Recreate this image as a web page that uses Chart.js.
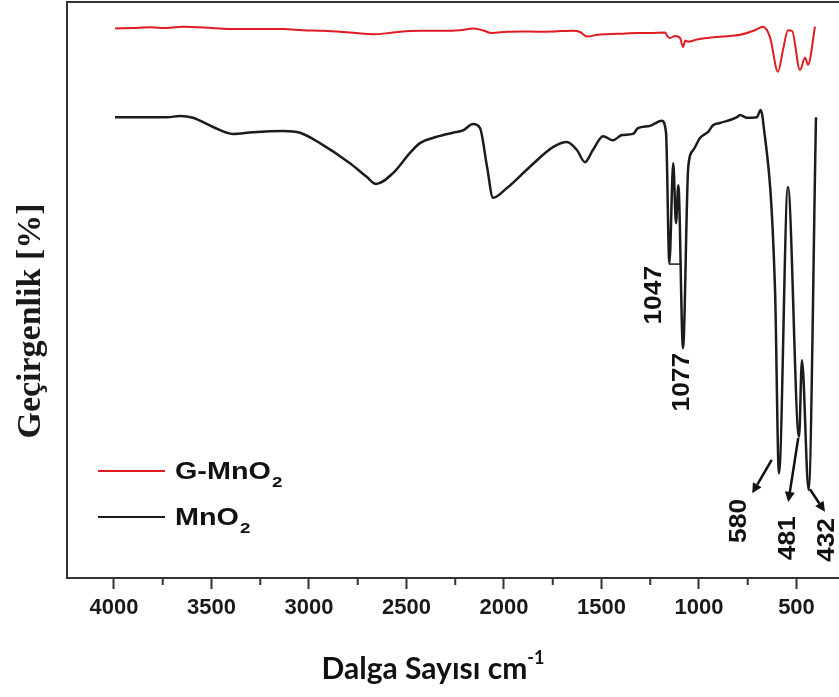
<!DOCTYPE html>
<html>
<head>
<meta charset="utf-8">
<script src="https://cdn.jsdelivr.net/npm/chart.js@4.4.0/dist/chart.umd.min.js"></script>
<style>
  html, body { margin: 0; padding: 0; background: #fff; }
  #wrap { width: 839px; height: 697px; }
</style>
</head>
<body>
<div id="wrap"><canvas id="ftir" width="839" height="697"></canvas></div>
<script>
// wavenumbers (cm-1) and transmittance (arbitrary %)
const gmnoX = [3995, 3900, 3815, 3730, 3646, 3500, 3390, 3260, 3133, 3030, 2928, 2790, 2662, 2533, 2431, 2328, 2226, 2159, 2110, 2062, 1985, 1900, 1831, 1740, 1646, 1610, 1574, 1520, 1472, 1400, 1318, 1250, 1174, 1160, 1149, 1123, 1097, 1082, 1070, 1056, 1010, 959, 880, 790, 713, 672, 636, 595, 569, 544, 523, 482, 456, 441, 405];
const gmnoY = [95.4, 95.5, 95.6, 95.5, 95.7, 95.5, 95.3, 95.3, 95.3, 95.1, 95.0, 94.7, 94.4, 94.85, 95.0, 95.0, 95.1, 95.4, 95.1, 94.6, 94.85, 94.9, 94.85, 94.9, 95.0, 94.8, 94.0, 94.3, 94.4, 94.5, 94.6, 94.6, 94.7, 94.0, 93.75, 94.1, 93.75, 92.2, 93.3, 93.1, 93.5, 93.75, 94.0, 94.3, 95.1, 95.7, 93.9, 87.9, 91.7, 95.1, 95.0, 88.2, 90.3, 89.1, 95.7];

const mnoX = [3995, 3850, 3728, 3662, 3595, 3492, 3390, 3287, 3133, 3046, 2944, 2790, 2703, 2656, 2569, 2482, 2431, 2345, 2262, 2210, 2159, 2123, 2087, 2056, 1985, 1867, 1749, 1677, 1626, 1585, 1544, 1492, 1441, 1395, 1338, 1313, 1251, 1210, 1191, 1169, 1152, 1132, 1118, 1106, 1082, 1055, 1029, 995, 952, 928, 892, 805, 790, 754, 703, 684, 672, 610, 590, 544, 487, 472, 438, 400];
const mnoY = [80.0, 80.0, 80.0, 80.2, 79.9, 78.3, 77.1, 77.4, 77.6, 77.3, 75.5, 72.0, 69.6, 68.4, 70.3, 73.8, 75.5, 76.6, 77.3, 77.7, 78.8, 78.1, 71.4, 66.0, 67.7, 71.4, 74.8, 75.7, 74.3, 72.2, 74.3, 76.7, 76.0, 76.9, 77.1, 78.1, 78.5, 79.2, 79.4, 77.3, 54.7, 72.0, 61.6, 68.2, 39.9, 71.4, 74.3, 76.4, 77.5, 78.6, 79.0, 80.0, 80.4, 79.9, 80.0, 81.25, 79.5, 50.0, 18.2, 67.9, 24.5, 37.8, 15.3, 80.0];

const majorTicks = [4000, 3500, 3000, 2500, 2000, 1500, 1000, 500];
const minorTicks = [3750, 3250, 2750, 2250, 1750, 1250, 750];

const toPoints = (xs, ys) => xs.map((v, i) => ({ x: v, y: ys[i] }));

// peak labels and arrows, in data units
const peakNotes = [
  { text: '1047', v: 1226, t: 49.1 },
  { text: '1077', v: 1082, t: 34.0 },
  { text: '580', v: 790, t: 9.9 },
  { text: '481', v: 538, t: 6.9 },
  { text: '432', v: 338, t: 6.6 }
];
const peakArrows = [
  { from: [627, 20.5], to: [727, 14.7] },
  { from: [491, 24.3], to: [542, 13.2] },
  { from: [431, 15.4], to: [354, 11.5] }
];

const AXIS = '#333333';
const RED = '#e01b22';
const BLACK = '#1c1c1c';

const overlay = {
  id: 'overlay',
  afterDraw(chart) {
    const { ctx, chartArea: a, scales: { x, y } } = chart;
    ctx.save();

    // top frame
    ctx.strokeStyle = AXIS;
    ctx.lineWidth = 2;
    ctx.beginPath();
    ctx.moveTo(a.left - 1, a.top);
    ctx.lineTo(a.right, a.top);
    ctx.stroke();

    // short minor ticks
    minorTicks.forEach(v => {
      const px = x.getPixelForValue(v);
      ctx.beginPath();
      ctx.moveTo(px, a.bottom);
      ctx.lineTo(px, a.bottom + 7);
      ctx.stroke();
    });

    // 1047 marker line
    ctx.strokeStyle = BLACK;
    ctx.lineWidth = 1.5;
    ctx.beginPath();
    ctx.moveTo(x.getPixelForValue(1155), y.getPixelForValue(54.5));
    ctx.lineTo(x.getPixelForValue(1087), y.getPixelForValue(54.5));
    ctx.stroke();

    // rotated peak labels
    ctx.fillStyle = '#111';
    ctx.font = 'bold 23px "Liberation Sans", Arial, sans-serif';
    ctx.textAlign = 'center';
    ctx.textBaseline = 'middle';
    peakNotes.forEach(n => {
      ctx.save();
      ctx.translate(x.getPixelForValue(n.v), y.getPixelForValue(n.t));
      ctx.rotate(-Math.PI / 2);
      ctx.scale(1.15, 1);
      ctx.fillText(n.text, 0, 0);
      ctx.restore();
    });

    // arrows
    ctx.strokeStyle = '#111';
    ctx.fillStyle = '#111';
    ctx.lineWidth = 2.5;
    peakArrows.forEach(ar => {
      const x0 = x.getPixelForValue(ar.from[0]), y0 = y.getPixelForValue(ar.from[1]);
      const x1 = x.getPixelForValue(ar.to[0]), y1 = y.getPixelForValue(ar.to[1]);
      const ang = Math.atan2(y1 - y0, x1 - x0);
      const hl = 10, hw = 5;
      const bx = x1 - hl * Math.cos(ang), by = y1 - hl * Math.sin(ang);
      ctx.beginPath();
      ctx.moveTo(x0, y0);
      ctx.lineTo(bx, by);
      ctx.stroke();
      ctx.beginPath();
      ctx.moveTo(x1, y1);
      ctx.lineTo(bx + hw * Math.sin(ang), by - hw * Math.cos(ang));
      ctx.lineTo(bx - hw * Math.sin(ang), by + hw * Math.cos(ang));
      ctx.closePath();
      ctx.fill();
    });

    // legend (text is drawn wide, as in the original)
    const legend = [
      { color: RED, main: 'G-MnO', y: 471 },
      { color: BLACK, main: 'MnO', y: 517 }
    ];
    legend.forEach(l => {
      ctx.strokeStyle = l.color;
      ctx.lineWidth = 2;
      ctx.beginPath();
      ctx.moveTo(98, l.y);
      ctx.lineTo(165, l.y);
      ctx.stroke();
      ctx.save();
      ctx.translate(175, l.y + 8);
      ctx.scale(1.25, 1);
      ctx.fillStyle = '#111';
      ctx.textAlign = 'left';
      ctx.textBaseline = 'alphabetic';
      ctx.font = 'bold 23px "Liberation Sans", Arial, sans-serif';
      ctx.fillText(l.main, 0, 0);
      const w = ctx.measureText(l.main).width;
      ctx.font = 'bold 15px "Liberation Sans", Arial, sans-serif';
      ctx.fillText('2', w + 1, 8);
      ctx.restore();
    });

    // y title
    ctx.save();
    ctx.translate(40, 321);
    ctx.rotate(-Math.PI / 2);
    ctx.fillStyle = '#1a1a1a';
    ctx.font = 'bold 34px "Liberation Serif", "Times New Roman", serif';
    ctx.textAlign = 'center';
    ctx.textBaseline = 'alphabetic';
    ctx.fillText('Geçirgenlik [%]', 0, 0);
    ctx.restore();

    // x title with superscript
    ctx.fillStyle = '#111';
    ctx.textAlign = 'left';
    ctx.textBaseline = 'alphabetic';
    ctx.font = 'bold 30px Lato, "Open Sans", sans-serif';
    const main = 'Dalga Sayısı cm';
    const mw = ctx.measureText(main).width;
    ctx.font = 'bold 18px Lato, "Open Sans", sans-serif';
    const sw = ctx.measureText('-1').width;
    const sx = 433 - (mw + sw) / 2;
    ctx.font = 'bold 30px Lato, "Open Sans", sans-serif';
    ctx.fillText(main, sx, 679);
    ctx.font = 'bold 18px Lato, "Open Sans", sans-serif';
    ctx.fillText('-1', sx + mw, 664);

    ctx.restore();
  }
};

new Chart(document.getElementById('ftir'), {
  type: 'line',
  data: {
    datasets: [
      {
        label: 'G-MnO2',
        data: toPoints(gmnoX, gmnoY),
        borderColor: RED,
        borderWidth: 2,
        pointRadius: 0,
        cubicInterpolationMode: 'monotone'
      },
      {
        label: 'MnO2',
        data: toPoints(mnoX, mnoY),
        borderColor: BLACK,
        borderWidth: 2.5,
        pointRadius: 0,
        cubicInterpolationMode: 'monotone'
      }
    ]
  },
  options: {
    responsive: false,
    animation: false,
    devicePixelRatio: 1,
    layout: { padding: { top: 2, right: 0, bottom: 0, left: 0 } },
    plugins: {
      legend: { display: false },
      tooltip: { enabled: false }
    },
    scales: {
      x: {
        type: 'linear',
        reverse: true,
        min: 282,
        max: 4241,
        afterFit: s => { s.height = 119; },
        afterBuildTicks: s => { s.ticks = majorTicks.map(v => ({ value: v })); },
        border: { display: true, color: AXIS, width: 2 },
        grid: {
          drawOnChartArea: false,
          drawTicks: true,
          tickLength: 11,
          tickWidth: 2,
          tickColor: AXIS
        },
        ticks: {
          autoSkip: false,
          maxRotation: 0,
          padding: 6,
          color: '#1a1a1a',
          font: { family: '"Liberation Sans", Arial, sans-serif', size: 22, weight: 'bold' },
          callback: v => String(v)
        }
      },
      y: {
        min: 0,
        max: 100,
        afterFit: s => { s.width = 67; },
        border: { display: true, color: AXIS, width: 2 },
        grid: { display: false },
        ticks: { display: false }
      }
    }
  },
  plugins: [overlay]
});
</script>
</body>
</html>
